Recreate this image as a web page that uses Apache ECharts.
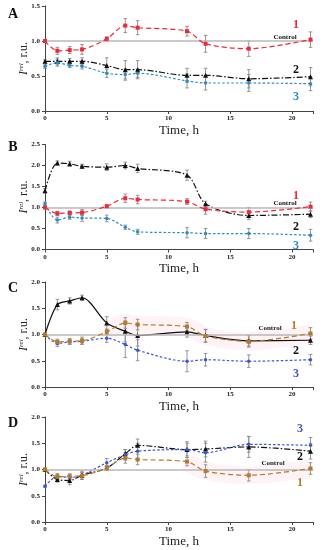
<!DOCTYPE html>
<html><head><meta charset="utf-8">
<script src="https://cdn.jsdelivr.net/npm/echarts@6/dist/echarts.min.js"></script>
<style>html,body{margin:0;padding:0;background:#fff}#c{width:323px;height:550px}</style>
</head><body><div id="c"></div>
<script>
// ---- data ----
const times = [0, 1, 2, 3, 5, 6.5, 7.5, 11.5, 13, 16.5, 21.5];
const controlLevel = 1.0;
const xTicks = [0, 5, 10, 15, 20];

const A1 = [1.00, 0.86, 0.87, 0.88, 1.03, 1.22, 1.19, 1.14, 0.96, 0.89, 1.02];
const A1err = [0.00, 0.05, 0.05, 0.07, 0.03, 0.10, 0.10, 0.07, 0.12, 0.11, 0.11];
const A2 = [0.71, 0.71, 0.71, 0.71, 0.65, 0.59, 0.59, 0.51, 0.51, 0.46, 0.49];
const A2err = [0.02, 0.05, 0.04, 0.05, 0.11, 0.13, 0.13, 0.10, 0.10, 0.13, 0.13];
const A3 = [0.64, 0.69, 0.65, 0.64, 0.54, 0.52, 0.54, 0.43, 0.40, 0.40, 0.39];
const A3err = [0.03, 0.05, 0.03, 0.04, 0.06, 0.08, 0.06, 0.10, 0.10, 0.12, 0.10];

const B1 = [1.00, 0.86, 0.87, 0.88, 1.03, 1.22, 1.19, 1.14, 0.96, 0.89, 1.02];
const B1err = [0.00, 0.05, 0.05, 0.07, 0.03, 0.10, 0.10, 0.07, 0.12, 0.11, 0.11];
const B2 = [1.40, 2.06, 2.04, 1.98, 1.96, 2.00, 1.93, 1.77, 1.09, 0.81, 0.84];
const B2err = [0.05, 0.05, 0.06, 0.05, 0.08, 0.08, 0.10, 0.12, 0.06, 0.10, 0.08];
const B3 = [1.09, 0.70, 0.77, 0.75, 0.74, 0.53, 0.42, 0.40, 0.38, 0.38, 0.34];
const B3err = [0.04, 0.07, 0.05, 0.08, 0.08, 0.05, 0.06, 0.12, 0.12, 0.12, 0.14];

const C1 = [1.00, 0.86, 0.87, 0.88, 1.05, 1.22, 1.19, 1.15, 0.97, 0.87, 1.02];
const C1err = [0.00, 0.05, 0.05, 0.07, 0.05, 0.10, 0.10, 0.08, 0.12, 0.11, 0.11];
const C2 = [1.00, 1.57, 1.64, 1.70, 1.22, 1.06, 0.98, 1.05, 0.98, 0.88, 0.89];
const C2err = [0.02, 0.10, 0.06, 0.05, 0.12, 0.20, 0.20, 0.10, 0.12, 0.10, 0.08];
const C3 = [1.00, 0.83, 0.86, 0.87, 0.93, 0.81, 0.70, 0.49, 0.52, 0.49, 0.52];
const C3err = [0.02, 0.06, 0.05, 0.05, 0.08, 0.25, 0.20, 0.20, 0.12, 0.12, 0.10];

const D1 = [1.00, 0.86, 0.87, 0.88, 1.03, 1.22, 1.19, 1.15, 0.97, 0.89, 1.02];
const D1err = [0.00, 0.05, 0.05, 0.07, 0.04, 0.10, 0.10, 0.08, 0.12, 0.11, 0.11];
const D2 = [1.00, 0.81, 0.79, 0.89, 1.03, 1.30, 1.46, 1.38, 1.39, 1.43, 1.35];
const D2err = [0.02, 0.05, 0.08, 0.08, 0.05, 0.08, 0.12, 0.15, 0.15, 0.20, 0.15];
const D3 = [0.68, 0.87, 0.85, 0.89, 1.13, 1.28, 1.35, 1.38, 1.32, 1.48, 1.46];
const D3err = [0.02, 0.05, 0.04, 0.05, 0.08, 0.10, 0.15, 0.12, 0.18, 0.15, 0.15];

const panelLetters = ['A', 'B', 'C', 'D'];
const yMax = [1.5, 2.5, 2.0, 2.0];
const yInterval = 0.5;
const xName = 'Time, h';
const controlText = 'Control';
const seriesNames = ['1', '2', '3'];

// ---- layout / style ----
const FONT = "'Liberation Serif','Times New Roman',serif";
const gridTops = [6, 144.5, 282, 417];
const GRID_H = 105, GRID_L = 45, GRID_W = 268;
const red = '#ee2a3a', blueAB = '#2b8bc6', brown = '#b8782c', blueCD = '#3a58cc', black = '#111';

const panels = [
  {s: [A1, A2, A3], e: [A1err, A2err, A3err], col: [red, black, blueAB], dash2: [6, 2, 1.5, 2]},
  {s: [B1, B2, B3], e: [B1err, B2err, B3err], col: [red, black, blueAB], dash2: [6, 2, 1.5, 2]},
  {s: [C1, C2, C3], e: [C1err, C2err, C3err], col: [brown, black, blueCD], dash2: 'solid'},
  {s: [D1, D2, D3], e: [D1err, D2err, D3err], col: [brown, black, blueCD], dash2: [6, 2, 1.5, 2]}
];

const grids = [], xAxes = [], yAxes = [], series = [];
panels.forEach((p, gi) => {
  grids.push({left: GRID_L, top: gridTops[gi], width: GRID_W, height: GRID_H});
  xAxes.push({
    type: 'value', gridIndex: gi, min: 0, max: 21.7, interval: 5,
    name: xName, nameLocation: 'middle', nameGap: 13, nameMoveOverlap: false,
    nameTextStyle: {fontFamily: FONT, fontSize: 13, color: '#222', verticalAlign: 'top'},
    axisLine: {lineStyle: {color: '#444', width: 1}},
    axisTick: {inside: false, length: 3, lineStyle: {color: '#444'}},
    axisLabel: {fontFamily: FONT, fontSize: 7, fontWeight: 'bold', color: '#222', margin: 4,
      formatter: v => xTicks.includes(v) ? String(v) : ''},
    splitLine: {show: false}
  });
  yAxes.push({
    type: 'value', gridIndex: gi, min: 0, max: yMax[gi], interval: yInterval,
    name: '{i|I}{s|rel}{n|, r.u.}', nameLocation: 'middle', nameGap: 15, nameRotate: 90,
    nameMoveOverlap: false,
    nameTextStyle: {fontFamily: FONT, color: '#222',
      rich: {i: {fontFamily: FONT, fontSize: 12, fontStyle: 'italic', color: '#222'},
             s: {fontFamily: FONT, fontSize: 7, fontStyle: 'italic', color: '#222', verticalAlign: 'top', lineHeight: 12},
             n: {fontFamily: FONT, fontSize: 12, color: '#222'}}},
    axisLine: {show: true, lineStyle: {color: '#444', width: 1}},
    axisTick: {show: true, length: 3, lineStyle: {color: '#444'}},
    axisLabel: {fontFamily: FONT, fontSize: 7, fontWeight: 'bold', color: '#222', margin: 5,
      formatter: v => v.toFixed(1)},
    splitLine: {show: false}
  });

  // pink highlight band (C, D)
  if (gi === 2 || gi === 3) {
    const start = gi === 2 ? 4 : 7;
    series.push({
      type: 'line', xAxisIndex: gi, yAxisIndex: gi, smooth: 0.3, symbol: 'none', silent: true,
      data: times.map((t, i) => [t, p.s[0][i]]).slice(start),
      lineStyle: {color: 'rgba(255,160,185,0.13)', width: 18}, z: 1
    });
  }

  // control line
  series.push({
    type: 'line', xAxisIndex: gi, yAxisIndex: gi, data: [], silent: true,
    markLine: {symbol: 'none', silent: true, label: {show: false},
      lineStyle: {color: '#b8b8b8', width: 1.5, type: 'solid'},
      data: [{yAxis: controlLevel}]}, z: 2
  });

  // error bars
  p.s.forEach((arr, si) => {
    series.push({
      type: 'custom', xAxisIndex: gi, yAxisIndex: gi, silent: true, z: 3,
      data: times.map((t, i) => [t, arr[i] - p.e[si][i], arr[i] + p.e[si][i]]),
      renderItem: (params, api) => {
        const lo = api.coord([api.value(0), api.value(1)]);
        const hi = api.coord([api.value(0), api.value(2)]);
        const c = 1.8;
        const st = {stroke: '#8a8a8a', lineWidth: 0.9};
        return {type: 'group', children: [
          {type: 'line', shape: {x1: lo[0], y1: lo[1], x2: hi[0], y2: hi[1]}, style: st},
          {type: 'line', shape: {x1: lo[0] - c, y1: lo[1], x2: lo[0] + c, y2: lo[1]}, style: st},
          {type: 'line', shape: {x1: hi[0] - c, y1: hi[1], x2: hi[0] + c, y2: hi[1]}, style: st}
        ]};
      }
    });
  });

  // data lines
  const symbols = ['rect', 'triangle', 'circle'];
  const sizes = [4, 5, 3.5];
  const dashes = [[5, 3], p.dash2, [2.5, 2]];
  p.s.forEach((arr, si) => {
    series.push({
      name: seriesNames[si], type: 'line', xAxisIndex: gi, yAxisIndex: gi, smooth: 0.3,
      data: times.map((t, i) => [t, arr[i]]),
      symbol: symbols[si], symbolSize: sizes[si], showSymbol: true,
      itemStyle: {color: p.col[si]},
      lineStyle: {color: p.col[si], width: 1.2, type: dashes[si]}, z: 4 + (si === 0 ? 1 : 0)
    });
  });
});

// annotations (pixel positions)
const txt = (x, y, text, size, color, bold = true, align = 'center') => ({
  type: 'text', x, y, style: {text, fontFamily: FONT, fontSize: size, fontWeight: bold ? 'bold' : 'normal',
    fill: color, textAlign: align, textVerticalAlign: 'middle'}
});
const graphic = [];
const letterY = [14, 147, 288, 423];
letterY.forEach((y, i) => graphic.push(txt(13, y, panelLetters[i], 14, '#111')));
// A
graphic.push(txt(296, 25, '1', 12, red), txt(285, 37, controlText, 7, '#111'),
  txt(296, 70, '2', 12, '#111'), txt(296, 97, '3', 12, blueAB));
// B
graphic.push(txt(296, 196, '1', 12, red), txt(285, 203, controlText, 7, '#111'),
  txt(296, 227, '2', 12, '#111'), txt(296, 246, '3', 12, blueAB));
// C
graphic.push(txt(294, 326, '1', 12, brown), txt(270, 328, controlText, 7, '#111'),
  txt(296, 351, '2', 12, '#111'), txt(296, 374, '3', 12, blueCD));
// D
graphic.push(txt(300, 429, '3', 12, blueCD), txt(300, 457, '2', 12, '#111'),
  txt(273, 463, controlText, 7, '#111'), txt(300, 483, '1', 12, brown));

const chart = echarts.init(document.getElementById('c'), null, {renderer: 'canvas'});
chart.setOption({
  animation: false, backgroundColor: '#fff',
  grid: grids, xAxis: xAxes, yAxis: yAxes, series, graphic
});
</script></body></html>
